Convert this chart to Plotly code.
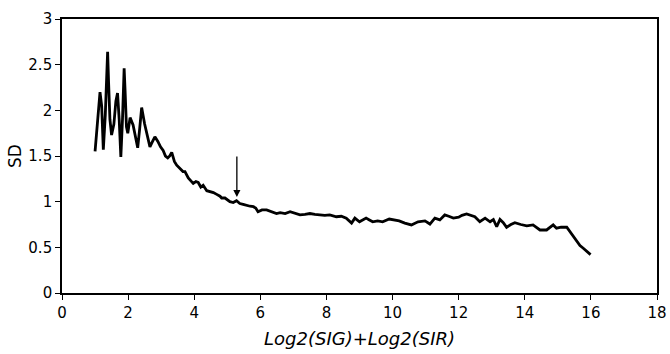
import plotly.graph_objects as go

# Data
x_vals = [1.0, 1.07, 1.15, 1.2, 1.25, 1.31, 1.38, 1.41, 1.45, 1.5, 1.57, 1.63, 1.68, 1.73, 1.78,
          1.83, 1.88, 1.91, 1.95, 1.99, 2.06, 2.15, 2.22, 2.29, 2.35, 2.41, 2.5, 2.6, 2.66, 2.74,
          2.81, 2.9, 2.98, 3.06, 3.13, 3.2, 3.26, 3.32, 3.4, 3.47, 3.58, 3.66, 3.72, 3.82, 3.92,
          3.97, 4.05, 4.12, 4.2, 4.27, 4.38, 4.48, 4.58, 4.68, 4.78, 4.83, 4.93, 5.08, 5.18, 5.28,
          5.38, 5.48, 5.6, 5.69, 5.79, 5.86, 5.93, 6.05, 6.19, 6.34, 6.49, 6.6, 6.75, 6.9, 7.05,
          7.2, 7.35, 7.5, 7.65, 7.8, 7.95, 8.1, 8.3, 8.45, 8.6, 8.76, 8.86, 9.0, 9.1, 9.2, 9.3,
          9.4, 9.55, 9.7, 9.9, 10.05, 10.2, 10.37, 10.57, 10.77, 10.98, 11.13, 11.28, 11.43, 11.58,
          11.7, 11.84, 12.0, 12.1, 12.24, 12.35, 12.49, 12.64, 12.8, 12.95, 13.05, 13.15, 13.25,
          13.35, 13.45, 13.58, 13.7, 13.88, 14.06, 14.25, 14.35, 14.46, 14.66, 14.76, 14.86, 14.96,
          15.1, 15.27, 15.37, 15.47, 15.57, 15.67, 15.77, 15.88, 15.99]
sd_vals = [1.55, 1.9, 2.2, 2.05, 1.57, 1.95, 2.64, 2.3, 1.9, 1.73, 1.85, 2.1, 2.19, 1.9, 1.49,
           1.9, 2.46, 2.2, 1.82, 1.75, 1.92, 1.84, 1.7, 1.59, 1.8, 2.03, 1.85, 1.7, 1.6, 1.66,
           1.71, 1.66, 1.6, 1.56, 1.5, 1.48, 1.5, 1.54, 1.44, 1.4, 1.36, 1.33, 1.33, 1.26, 1.22,
           1.2, 1.22, 1.21, 1.16, 1.18, 1.12, 1.11, 1.1, 1.08, 1.06, 1.04, 1.04, 1.0, 0.99, 1.01,
           0.98, 0.97, 0.955, 0.95, 0.945, 0.93, 0.89, 0.91, 0.91, 0.89, 0.87, 0.88, 0.87, 0.89, 0.87,
           0.855, 0.86, 0.87, 0.86, 0.855, 0.85, 0.855, 0.835, 0.84, 0.82, 0.765, 0.82, 0.78, 0.8, 0.82, 0.8,
           0.78, 0.79, 0.78, 0.81, 0.8, 0.79, 0.765, 0.745, 0.78, 0.79, 0.755, 0.82, 0.8, 0.855,
           0.84, 0.82, 0.83, 0.85, 0.865, 0.85, 0.835, 0.78, 0.82, 0.78, 0.805, 0.725, 0.805,
           0.77, 0.72, 0.75, 0.77, 0.75, 0.735, 0.745, 0.72, 0.69, 0.69, 0.72, 0.745, 0.71,
           0.72, 0.72, 0.67, 0.62, 0.56, 0.52, 0.49, 0.46, 0.42]

x_ticks = [0, 2, 4, 6, 8, 10, 12, 14, 16, 18]
y_ticks = [0, 0.5, 1, 1.5, 2, 2.5, 3]
y_tick_labels = ["0", "0.5", "1", "1.5", "2", "2.5", "3"]
arrow_x = 5.29
arrow_tip = 1.05
arrow_tail = 1.51

FONT = "DejaVu Sans, Liberation Sans, Arial"

fig = go.Figure()
fig.add_trace(go.Scatter(x=x_vals, y=sd_vals, mode="lines",
                         line=dict(color="black", width=2.8), showlegend=False))

fig.add_annotation(x=arrow_x, y=arrow_tip, ax=arrow_x, ay=arrow_tail,
                   xref="x", yref="y", axref="x", ayref="y",
                   showarrow=True, arrowhead=2, arrowsize=1.1, arrowwidth=1.3,
                   arrowcolor="black", text="")

axis_common = dict(showline=True, linecolor="black", linewidth=1.6, mirror=True,
                   ticks="outside", ticklen=5, tickcolor="black", tickwidth=1.3,
                   showgrid=False, zeroline=False, automargin=False,
                   tickfont=dict(family=FONT, size=15, color="black"))

fig.update_xaxes(range=[0, 18], tickvals=x_ticks,
                 title=dict(text="<i>Log2(SIG)+Log2(SIR)</i>",
                            font=dict(family=FONT, size=18, color="black"),
                            standoff=12),
                 **axis_common)
fig.update_yaxes(range=[0, 3], tickvals=y_ticks, ticktext=y_tick_labels,
                 title=dict(text="SD",
                            font=dict(family=FONT, size=17, color="black"),
                            standoff=2),
                 **axis_common)

fig.update_layout(width=670, height=354,
                  margin=dict(l=62, r=13, t=19, b=61),
                  plot_bgcolor="white", paper_bgcolor="white")

fig.write_html("out.html")
